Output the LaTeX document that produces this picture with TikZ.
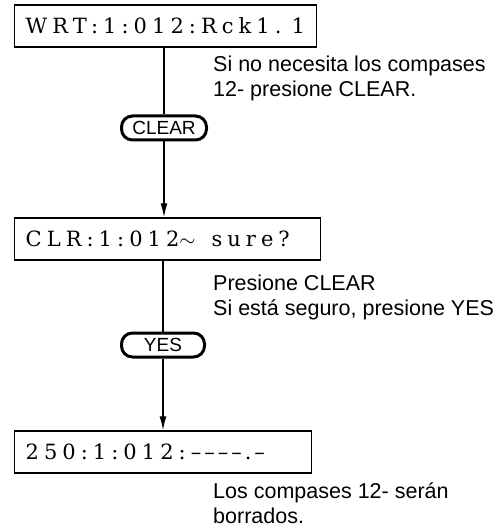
\documentclass[tikz,border=0pt]{standalone}
\usepackage{fontspec}
\setmainfont{Liberation Sans}
\newfontfamily\lcdfont[LetterSpace=24]{DejaVu Serif}
\usetikzlibrary{arrows.meta}

\newcommand{\lcddash}{\textendash\hspace{3pt}}

\tikzset{
  lcdbox/.style={draw, line width=1.4pt, anchor=west, minimum height=42pt,
    inner xsep=11pt, align=left, font=\lcdfont\fontsize{21}{21}\selectfont},
  keybtn/.style={draw, line width=3pt, rounded corners=11pt,
    minimum height=24pt, inner sep=2pt, font=\fontsize{19}{19}\selectfont},
  note/.style={anchor=north west, align=left, inner sep=0pt,
    font=\fontsize{21.5}{25}\selectfont},
  flow/.style={line width=1.4pt},
}

\begin{document}
\begin{tikzpicture}[x=1pt,y=-1pt]
\useasboundingbox (0,0) rectangle (498,529);
% display boxes
\node[lcdbox, text width=280pt] (wrt) at (14,26) {WRT:1:012:Rck1.\hspace{10pt}1};
\node[lcdbox, text width=284pt] (clr) at (14,239) {CLR:1:012$\sim$\hspace{16pt}sure?};
\node[lcdbox, text width=275pt] (done) at (14,452)
  {250:1:012:\lcddash\lcddash\lcddash\lcddash.\hspace{3pt}\textendash};
% keys
\node[keybtn, minimum width=85pt] (clearkey) at (164,128) {CLEAR};
\node[keybtn, minimum width=83pt] (yeskey) at (163,345) {YES};
% notes
\node[note] (hintclear) at (213,56) {Si no necesita los compases\\12- presione CLEAR.};
\node[note] (hintyes) at (213,275) {Presione CLEAR\\Si está seguro, presione YES};
\node[note] (hintdone) at (213,482) {Los compases 12- serán\\borrados.};
% connectors
\draw[flow] (clearkey.north) -- (clearkey.north |- wrt.south);
\draw[flow, -{Latex[length=14pt,width=7pt]}] (clearkey.south) -- (clearkey.south |- clr.north);
\draw[flow] (yeskey.north) -- (yeskey.north |- clr.south);
\draw[flow, -{Latex[length=14pt,width=7pt]}] (yeskey.south) -- (yeskey.south |- done.north);
\end{tikzpicture}
\end{document}
